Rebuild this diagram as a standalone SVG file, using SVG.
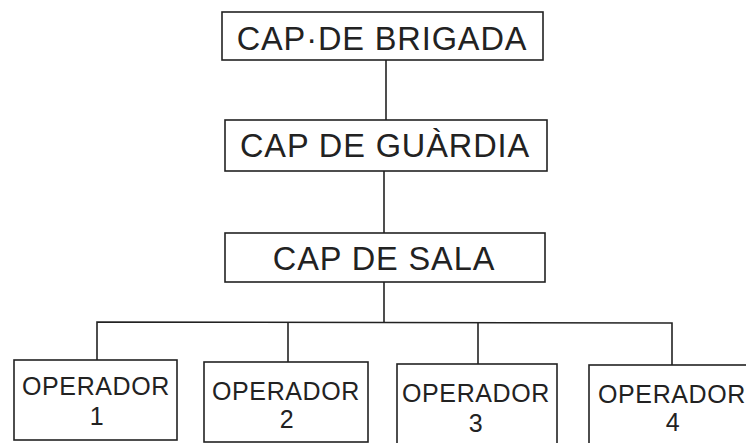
<svg xmlns="http://www.w3.org/2000/svg" width="746" height="443" viewBox="0 0 746 443">
<style>
.box{fill:#fff;stroke:#222;stroke-width:1.6}
.big{font-family:"Liberation Sans",Arial,sans-serif;font-size:32.5px;letter-spacing:0.9px;fill:#222;text-anchor:middle}
.op{font-family:"Liberation Sans",Arial,sans-serif;font-size:25px;letter-spacing:0.6px;fill:#222;text-anchor:middle}
.ln{fill:none;stroke:#222;stroke-width:1.6}
</style>
<rect width="746" height="443" fill="#fff"/>
<g id="connectors">
<line class="ln" x1="386" y1="60" x2="386" y2="120"/>
<line class="ln" x1="384" y1="171" x2="384" y2="233"/>
<line class="ln" x1="384" y1="282" x2="384" y2="322"/>
<polyline class="ln" points="97,360 97,322 672,323 672,365"/>
<line class="ln" x1="288" y1="322" x2="288" y2="362"/>
<line class="ln" x1="478" y1="323" x2="478" y2="364"/>
</g>
<g id="cap-brigada">
<rect class="box" x="222" y="12" width="321" height="48"/>
<text class="big" x="382" y="50">CAP·DE BRIGADA</text>
</g>
<g id="cap-guardia">
<rect class="box" x="225" y="120" width="322" height="51"/>
<text class="big" x="385" y="157">CAP DE GUÀRDIA</text>
</g>
<g id="cap-sala">
<rect class="box" x="225" y="233" width="320" height="49"/>
<text class="big" x="384" y="270">CAP DE SALA</text>
</g>
<g id="operador-1">
<rect class="box" x="14" y="360" width="163" height="80"/>
<text class="op" x="96" y="395">OPERADOR</text>
<text class="op" x="97" y="425">1</text>
</g>
<g id="operador-2">
<rect class="box" x="204" y="362" width="164" height="80"/>
<text class="op" x="286" y="400">OPERADOR</text>
<text class="op" x="287" y="428">2</text>
</g>
<g id="operador-3">
<rect class="box" x="397" y="364" width="160" height="85"/>
<text class="op" x="476" y="402">OPERADOR</text>
<text class="op" x="476" y="432">3</text>
</g>
<g id="operador-4">
<rect class="box" x="589" y="365" width="170" height="85"/>
<text class="op" x="672" y="403">OPERADOR</text>
<text class="op" x="673" y="431">4</text>
</g>
</svg>
